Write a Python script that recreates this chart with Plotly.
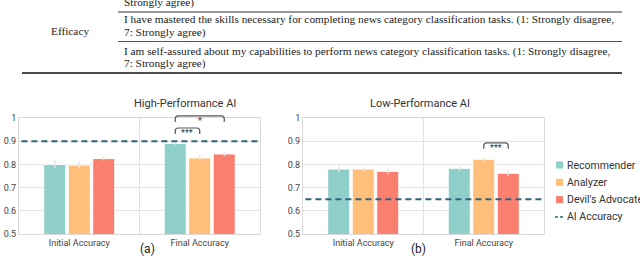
import plotly.graph_objects as go

# ---------------- data ----------------
categories = ["Initial Accuracy", "Final Accuracy"]
conditions = ["Recommender", "Analyzer", "Devil's Advocate"]
colors = ["#8ECFC9", "#FFBE7A", "#FA7F6F"]

high_means = {
    "Recommender": [0.800, 0.890],
    "Analyzer": [0.797, 0.828],
    "Devil's Advocate": [0.825, 0.845],
}
high_err = {
    "Recommender": [0.018, 0.005],
    "Analyzer": [0.016, 0.012],
    "Devil's Advocate": [0.008, 0.010],
}
low_means = {
    "Recommender": [0.780, 0.783],
    "Analyzer": [0.780, 0.822],
    "Devil's Advocate": [0.770, 0.762],
}
low_err = {
    "Recommender": [0.012, 0.010],
    "Analyzer": [0.010, 0.008],
    "Devil's Advocate": [0.012, 0.012],
}
ai_accuracy_high = 0.90
ai_accuracy_low = 0.65

# significance brackets: (category index, from condition, to condition, level, label)
sig_high = [(1, 0, 1, 0.957, "***"), (1, 0, 2, 1.009, "*")]
sig_low = [(1, 1, 2, 0.893, "***")]

y_ticks = [0.5, 0.6, 0.7, 0.8, 0.9, 1.0]
y_ticktext = ["0.5", "0.6", "0.7", "0.8", "0.9", "1"]

table_lines = [
    ("Strongly agree)", 3),
    ("I have mastered the skills necessary for completing news category classification tasks. (1: Strongly disagree,", 20),
    ("7: Strongly agree)", 33),
    ("I am self-assured about my capabilities to perform news category classification tasks. (1: Strongly disagree,", 52),
    ("7: Strongly agree)", 64),
]

# ---------------- layout constants ----------------
W, H = 640, 265
BARGAP = 0.39
GROUPGAP = 0.1
XR = [-0.5, 1.5]
YR = [0.5, 1.0]
dom_a = [19 / W, 260 / W]
dom_b = [303 / W, 544 / W]
dom_y = [1 - 234 / H, 1 - 118 / H]
SANS = "Roboto, Arial, sans-serif"
SERIF = "Liberation Serif, serif"
AI_COLOR = "#2F6479"

fig = go.Figure()

x_pos = list(range(len(categories)))

def add_panel(means, errs, xa, ya):
    for c, col in zip(conditions, colors):
        fig.add_trace(go.Bar(
            x=x_pos, y=means[c], name=c, marker=dict(color=col, line=dict(color="white", width=1)),
            error_y=dict(type="data", array=errs[c], color="#e6e6e6", thickness=1.5, width=0),
            xaxis=xa, yaxis=ya, showlegend=False,
        ))

add_panel(high_means, high_err, "x", "y")
add_panel(low_means, low_err, "x2", "y2")

# AI accuracy reference lines
for acc, xa, ya in [(ai_accuracy_high, "x", "y"), (ai_accuracy_low, "x2", "y2")]:
    fig.add_shape(type="line", xref=f"{xa} domain", yref=ya, x0=0.01, x1=0.99, y0=acc, y1=acc,
                  line=dict(color=AI_COLOR, width=2, dash="6px,4px"), layer="above")

axis_common = dict(showline=True, mirror=True, linecolor="#d9d9d9", linewidth=1, zeroline=False)
xcommon = dict(range=XR, tickvals=x_pos, ticktext=categories, showgrid=False, ticks="",
               tickfont=dict(family=SANS, size=9, color="#444"), **axis_common)
ycommon = dict(range=YR, tickvals=y_ticks, ticktext=y_ticktext, showgrid=True, gridcolor="#e3e3e3",
               ticks="", tickfont=dict(family=SANS, size=9, color="#444"), **axis_common)

fig.update_layout(
    width=W, height=H, margin=dict(l=0, r=0, t=0, b=0, autoexpand=False),
    paper_bgcolor="white", plot_bgcolor="white",
    barmode="group", bargap=BARGAP, bargroupgap=GROUPGAP,
    xaxis=dict(domain=dom_a, anchor="y", **xcommon),
    yaxis=dict(domain=dom_y, anchor="x", **ycommon),
    xaxis2=dict(domain=dom_b, anchor="y2", **xcommon),
    yaxis2=dict(domain=dom_y, anchor="x2", **ycommon),
    showlegend=False,
)

# divider between categories
for xa, ya in [("x", "y"), ("x2", "y2")]:
    fig.add_shape(type="line", xref=xa, yref=ya, x0=0.5, x1=0.5, y0=YR[0], y1=YR[1],
                  line=dict(color="#e3e3e3", width=1), layer="below")

# legend (drawn as keys + text)
legend_names = conditions + ["AI Accuracy"]
for k, name in enumerate(legend_names):
    ypx = 165 + k * 17.3
    yc = 1 - ypx / H
    if k < len(conditions):
        fig.add_shape(type="rect", xref="paper", yref="paper",
                      x0=556 / W, x1=563 / W, y0=yc - 3.5 / H, y1=yc + 3.5 / H,
                      fillcolor=colors[k], line=dict(width=0))
    else:
        fig.add_shape(type="line", xref="paper", yref="paper", x0=555 / W, x1=564 / W,
                      y0=yc, y1=yc, line=dict(color=AI_COLOR, width=1.5, dash="3px,2px"))
    fig.add_annotation(xref="paper", yref="paper", x=565 / W, y=yc, text=name,
                       showarrow=False, xanchor="left", yanchor="middle",
                       font=dict(family=SANS, size=10.5, color="#333"))

# helpers: data -> paper
def px(x, dom):
    return dom[0] + (x - XR[0]) / (XR[1] - XR[0]) * (dom[1] - dom[0])

def py(y):
    return dom_y[0] + (y - YR[0]) / (YR[1] - YR[0]) * (dom_y[1] - dom_y[0])

slot = (1 - BARGAP) / len(conditions)

def bar_center(cat, i):
    return cat + (i - (len(conditions) - 1) / 2) * slot

def add_bracket(dom, cat, i0, i1, level, label):
    x0 = px(bar_center(cat, i0), dom)
    x1 = px(bar_center(cat, i1), dom)
    ytop = py(level)
    drop = 6 / H
    r = 3 / W
    rv = 3 / H
    path = (f"M{x0},{ytop - drop} L{x0},{ytop - rv} Q{x0},{ytop} {x0 + r},{ytop} "
            f"L{x1 - r},{ytop} Q{x1},{ytop} {x1},{ytop - rv} L{x1},{ytop - drop}")
    fig.add_shape(type="path", xref="paper", yref="paper", path=path,
                  line=dict(color="#555", width=1.2))
    fig.add_annotation(xref="paper", yref="paper", x=(x0 + x1) / 2, y=ytop - 5 / H,
                       text=label, showarrow=False, font=dict(family=SANS, size=9, color="#333"),
                       xanchor="center", yanchor="middle")

for cat, i0, i1, lvl, lab in sig_high:
    add_bracket(dom_a, cat, i0, i1, lvl, lab)
for cat, i0, i1, lvl, lab in sig_low:
    add_bracket(dom_b, cat, i0, i1, lvl, lab)

# panel titles and captions
fig.add_annotation(xref="paper", yref="paper", x=132 / W, y=1 - 103 / H, text="High-Performance AI",
                   showarrow=False, font=dict(family=SANS, size=11, color="#333"))
fig.add_annotation(xref="paper", yref="paper", x=420 / W, y=1 - 103 / H, text="Low-Performance AI",
                   showarrow=False, font=dict(family=SANS, size=11, color="#333"))
fig.add_annotation(xref="paper", yref="paper", x=138 / W, y=1 - 258 / H, text="(a)",
                   showarrow=False, font=dict(family=SANS, size=12, color="#222"))
fig.add_annotation(xref="paper", yref="paper", x=418 / W, y=1 - 258 / H, text="(b)",
                   showarrow=False, font=dict(family=SANS, size=12, color="#222"))

# table fragment at top
for txt, ypx in table_lines:
    fig.add_annotation(xref="paper", yref="paper", x=122 / W, y=1 - ypx / H, text=txt,
                       showarrow=False, xanchor="left", yanchor="middle",
                       font=dict(family=SERIF, size=11.3, color="#222"))
fig.add_annotation(xref="paper", yref="paper", x=70 / W, y=1 - 31 / H, text="Efficacy",
                   showarrow=False, xanchor="center", yanchor="middle",
                   font=dict(family=SERIF, size=11.3, color="#222"))
fig.add_shape(type="line", xref="paper", yref="paper", x0=118 / W, x1=622 / W,
              y0=1 - 12 / H, y1=1 - 12 / H, line=dict(color="#9a9a9a", width=2))
fig.add_shape(type="line", xref="paper", yref="paper", x0=118 / W, x1=622 / W,
              y0=1 - 41.5 / H, y1=1 - 41.5 / H, line=dict(color="#555", width=1))
fig.add_shape(type="line", xref="paper", yref="paper", x0=22 / W, x1=622 / W,
              y0=1 - 73 / H, y1=1 - 73 / H, line=dict(color="#111", width=1.5))

fig.write_html("out.html", config={"displayModeBar": False},
               post_script="document.body.style.margin='0';document.body.style.overflow='hidden';")
